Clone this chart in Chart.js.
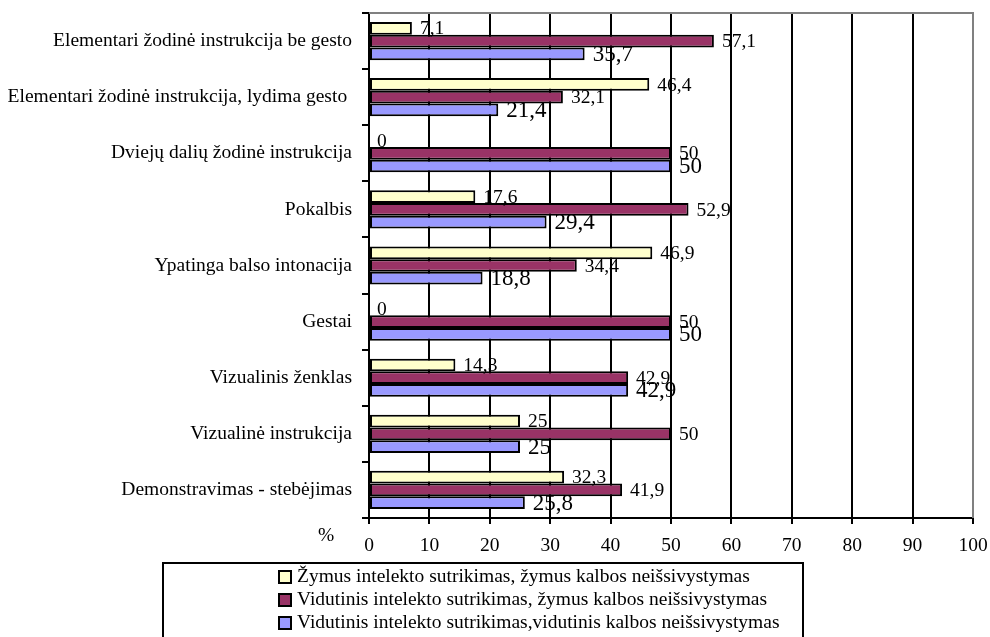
<!DOCTYPE html>
<html>
<head>
<meta charset="utf-8">
<script src="https://cdn.jsdelivr.net/npm/chart.js@4"></script>
<style>
  html, body { margin: 0; padding: 0; background: #fff; }
  #wrap { width: 990px; height: 637px; }
</style>
</head>
<body>
<div id="wrap"><canvas id="chart" width="990" height="637"></canvas></div>
<script>
// categories (top to bottom)
let categories = [
    "Elementari žodinė instrukcija be gesto",
    "Elementari žodinė instrukcija, lydima gesto ",
    "Dviejų dalių žodinė instrukcija",
    "Pokalbis",
    "Ypatinga balso intonacija",
    "Gestai",
    "Vizualinis ženklas",
    "Vizualinė instrukcija",
    "Demonstravimas - stebėjimas"
];
let seriesNames = [
    "Žymus intelekto sutrikimas, žymus kalbos neišsivystymas",
    "Vidutinis intelekto sutrikimas, žymus kalbos neišsivystymas",
    "Vidutinis intelekto sutrikimas,vidutinis kalbos neišsivystymas"
];
let zymusZymus = [7.1, 46.4, 0, 17.6, 46.9, 0, 14.3, 25, 32.3];
let vidutinisZymus = [57.1, 32.1, 50, 52.9, 34.4, 50, 42.9, 50, 41.9];
let vidutinisVidutinis = [35.7, 21.4, 50, 29.4, 18.8, 50, 42.9, 25, 25.8];
let xTicks = [0, 10, 20, 30, 40, 50, 60, 70, 80, 90, 100];
let axisUnit = "%";

const SERIF = '"Liberation Serif", "Times New Roman", serif';
const colors = ['#FFFFCC', '#993366', '#9999FF'];
const labelFont = [19.5, 19.5, 23];

// value labels next to each bar, with decimal comma
const valueLabels = {
    id: 'valueLabels',
    afterDatasetsDraw(chart) {
        let ctx = chart.ctx;
        chart.data.datasets.forEach(function (ds, i) {
            let meta = chart.getDatasetMeta(i);
            meta.data.forEach(function (bar, j) {
                let txt = String(ds.data[j]).replace('.', ',');
                ctx.save();
                ctx.font = labelFont[i] + 'px ' + SERIF;
                ctx.fillStyle = '#000';
                ctx.textAlign = 'left';
                ctx.textBaseline = 'middle';
                ctx.fillText(txt, bar.x + 8, bar.y + 1);
                ctx.restore();
            });
        });
    }
};

// gray frame on top, "%" and the boxed legend
const extras = {
    id: 'extras',
    afterDraw(chart) {
        let ctx = chart.ctx;
        let a = chart.chartArea;
        ctx.save();
        ctx.strokeStyle = '#808080';
        ctx.lineWidth = 2;
        ctx.beginPath();
        ctx.moveTo(a.left, a.top);
        ctx.lineTo(a.right, a.top);
        ctx.lineTo(a.right, a.bottom);
        ctx.stroke();

        ctx.fillStyle = '#000';
        ctx.font = '19.5px ' + SERIF;
        ctx.textAlign = 'center';
        ctx.textBaseline = 'middle';
        ctx.fillText(axisUnit, 326, 536);

        // legend
        ctx.strokeStyle = '#000';
        ctx.lineWidth = 2;
        ctx.strokeRect(163, 563, 640, 90);
        chart.data.datasets.forEach(function (ds, i) {
            let y = 577 + i * 23;
            ctx.fillStyle = ds.backgroundColor;
            ctx.fillRect(279, y - 6, 12, 12);
            ctx.strokeRect(279, y - 6, 12, 12);
            ctx.fillStyle = '#000';
            ctx.textAlign = 'left';
            ctx.fillText(ds.label, 297, y);
        });
        ctx.restore();
    }
};

let datasets = [zymusZymus, vidutinisZymus, vidutinisVidutinis].map(function (vals, i) {
    return {
        label: seriesNames[i],
        data: vals,
        backgroundColor: colors[i],
        borderColor: '#000',
        borderWidth: function (c) { return c.raw === 0 ? 0 : 2; },
        borderSkipped: false,
        categoryPercentage: 0.68,
        barPercentage: 1.0
    };
});

let chart = new Chart(document.getElementById('chart'), {
    type: 'bar',
    data: { labels: categories, datasets: datasets },
    options: {
        indexAxis: 'y',
        responsive: false,
        animation: false,
        devicePixelRatio: 1,
        layout: { padding: { top: 13, right: 17, left: 0, bottom: 0 } },
        plugins: {
            legend: { display: false },
            tooltip: { enabled: false }
        },
        scales: {
            x: {
                type: 'linear',
                position: 'bottom',
                min: xTicks[0],
                max: xTicks[xTicks.length - 1],
                afterBuildTicks: function (s) {
                    s.ticks = xTicks.map(function (v) { return { value: v }; });
                },
                afterFit: function (s) {
                    s.height = 119;
                    s.paddingLeft = 0;
                    s.paddingRight = 0;
                },
                ticks: {
                    color: '#000',
                    padding: 10,
                    font: { family: SERIF, size: 19.5 }
                },
                grid: {
                    color: function (c) { return c.tick && c.tick.value === 100 ? '#808080' : '#000'; },
                    tickColor: '#000',
                    lineWidth: 2,
                    tickLength: 6
                },
                border: { color: '#000', width: 2 }
            },
            y: {
                type: 'category',
                position: 'left',
                afterFit: function (s) {
                    s.width = 369;
                    s.paddingTop = 0;
                    s.paddingBottom = 0;
                },
                ticks: {
                    color: '#000',
                    padding: 10,
                    font: { family: SERIF, size: 19.5 }
                },
                grid: {
                    offset: true,
                    drawOnChartArea: false,
                    color: '#000',
                    lineWidth: 2,
                    tickLength: 7
                },
                border: { color: '#000', width: 2 }
            }
        }
    },
    plugins: [valueLabels, extras]
});
</script>
</body>
</html>
